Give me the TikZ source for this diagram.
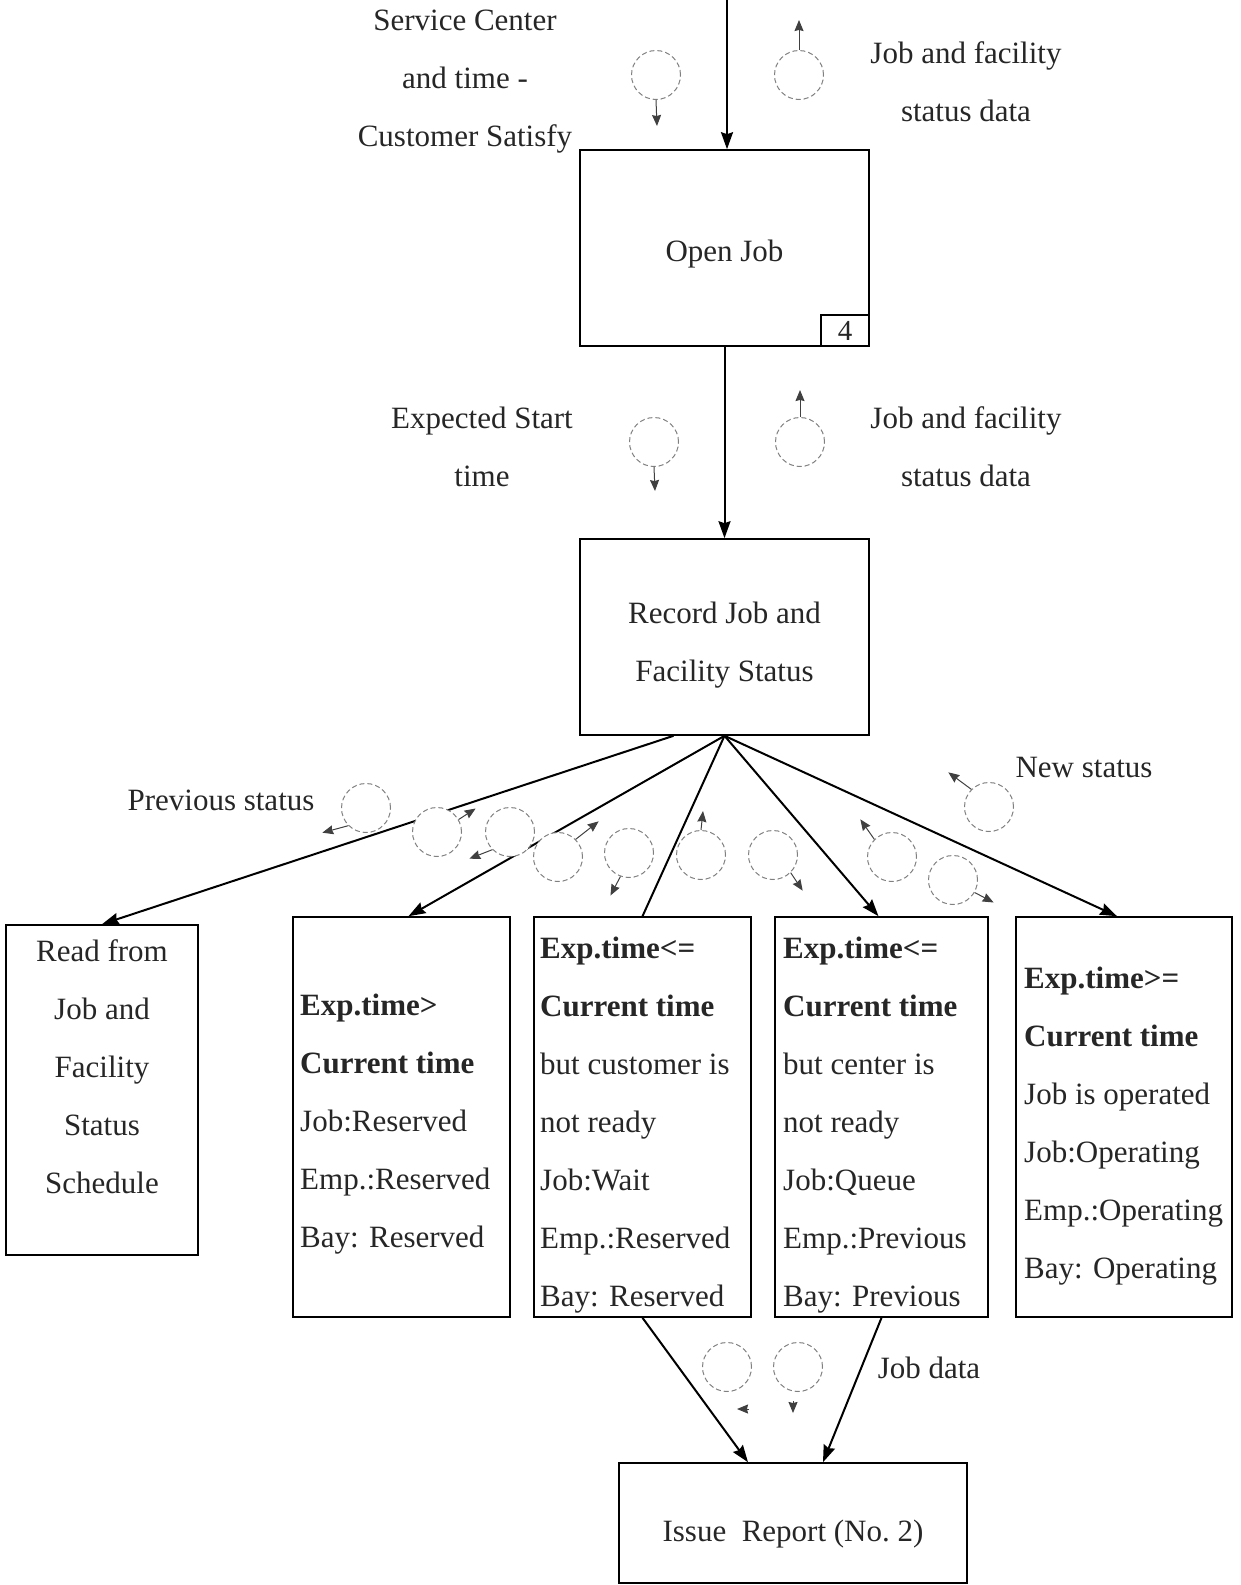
\documentclass[tikz,border=0pt]{standalone}
\usepackage{fontspec}
\setmainfont{Liberation Serif}
\usetikzlibrary{arrows.meta,calc}
\newcommand\lblfont{\fontsize{31}{58}\selectfont}
\begin{document}
\begin{tikzpicture}[x=1pt,y=-1pt,
  every node/.style={font=\lblfont, inner sep=0pt, text=black!85},
  proc/.style={draw, line width=1.6pt, minimum width=289pt, minimum height=196pt},
  stat/.style={draw, line width=1.6pt, minimum height=400pt},
  flow/.style={line width=2pt, -{Stealth[length=17pt,width=12pt,inset=2pt]}},
  plainflow/.style={line width=2pt},
  dcirc/.style={draw=black!50, fill=white, dash pattern=on 5pt off 3pt, line width=1pt, circle, minimum size=49pt},
  tipsm/.style={line width=1pt, draw=black!75, -{Stealth[length=11pt,width=9pt,inset=1pt]}},
]
\useasboundingbox (0,0) rectangle (1240,1585);

% ---- process boxes ----
\node[proc] (open) at (724.5,248) {};
\node (opentxt) at (724.5,254) {Open Job};
\node[draw, line width=1.4pt, minimum width=48pt, minimum height=31pt,
      font=\fontsize{29}{30}\selectfont] (num) at (845,330.5) {4};
\node[proc] (rec) at (724.5,637) {};
\node[align=center] (rectxt) at (724.5,645) {Record Job and\\Facility Status};

% ---- status boxes ----
\node[draw, line width=1.6pt, minimum width=192pt, minimum height=330pt] (read) at (102,1090) {};
\node[align=center] (readtxt) at (102,1067) {Read from\\Job and\\Facility\\Status\\Schedule};

\node[stat, minimum width=217pt] (sa) at (401.5,1117) {};
\node[align=left, anchor=west] (satxt) at (300,1124)
  {{\bfseries Exp.time>}\\{\bfseries Current time}\\Job:Reserved\\Emp.:Reserved\\Bay: Reserved};

\node[stat, minimum width=217pt] (sb) at (642.5,1117) {};
\node[align=left, anchor=west] (sbtxt) at (540,1125)
  {{\bfseries Exp.time<=}\\{\bfseries Current time}\\but customer is\\not ready\\Job:Wait\\Emp.:Reserved\\Bay: Reserved};

\node[stat, minimum width=213pt] (sc) at (881.5,1117) {};
\node[align=left, anchor=west] (sctxt) at (783,1125)
  {{\bfseries Exp.time<=}\\{\bfseries Current time}\\but center is\\not ready\\Job:Queue\\Emp.:Previous\\Bay: Previous};

\node[stat, minimum width=216pt] (sd) at (1124,1117) {};
\node[align=left, anchor=west] (sdtxt) at (1024,1126)
  {{\bfseries Exp.time>=}\\{\bfseries Current time}\\Job is operated\\Job:Operating\\Emp.:Operating\\Bay: Operating};

\node[draw, line width=1.6pt, minimum width=348pt, minimum height=120pt] (iss) at (793,1523) {};
\node (isstxt) at (793,1534) {Issue\ \ Report (No.~2)};

% ---- labels ----
\node[align=center] (svc) at (465,82) {Service Center\\and time -\\Customer Satisfy};
\node[align=center] (jf1) at (966,82) {Job and facility\\status data};
\node[align=center] (exp) at (482,447) {Expected Start\\time};
\node[align=center] (jf2) at (966,447) {Job and facility\\status data};
\node (prev) at (221,800) {Previous status};
\node (new) at (1084,767) {New status};
\node (jd) at (929,1368) {Job data};

% ---- main flows ----
\coordinate (topin) at (727,0);
\draw[flow] (topin) -- (topin |- open.north);
\draw[flow] (open.south) -- (rec.north);
\draw[flow] ($(rec.south)+(-51,0)$) -- (read.north);
\draw[flow] (rec.south) -- ($(sa.north)+(7,0)$);
\draw[plainflow] (sb.north) -- (rec.south);
\draw[flow] (rec.south) -- ($(sc.north)+(-3,0)$);
\draw[flow] (rec.south) -- ($(sd.north)+(-7,0)$);
\draw[flow] (sb.south) -- ($(iss.north)+(-45,0)$);
\draw[flow] (sc.south) -- ($(iss.north)+(30,0)$);

% ---- couples (dashed circles with small arrows) ----
\node[dcirc] (t1) at (656,75) {};
\node[dcirc] (t2) at (799,75) {};
\node[dcirc] (t3) at (654,442) {};
\node[dcirc] (t4) at (800,442) {};
\draw[tipsm] (t1.south) -- ++(1,26);
\draw[tipsm] (t2.north) -- ++(0,-30);
\draw[tipsm] (t3.south) -- ++(1,24);
\draw[tipsm] (t4.north) -- ++(0,-27);

\node[dcirc] (f1) at (366,808) {};
\node[dcirc] (f2) at (437,832) {};
\node[dcirc] (f3) at (510,832) {};
\node[dcirc] (f4) at (558,857) {};
\node[dcirc] (f5) at (629,853) {};
\node[dcirc] (f6) at (701,855) {};
\node[dcirc] (f7) at (773,855) {};
\node[dcirc] (f8) at (892,857) {};
\node[dcirc] (f9) at (953,880) {};
\node[dcirc] (f10) at (989,807) {};
\draw[tipsm] (f1.225) -- ++(-26,7);
\draw[tipsm] (f2.30) -- ++(17,-11);
\draw[tipsm] (f3.225) -- ++(-23,9);
\draw[tipsm] (f4.45) -- ++(23,-18);
\draw[tipsm] (f5.250) -- ++(-10,19);
\draw[tipsm] (f6.north) -- ++(2,-19);
\draw[tipsm] (f7.315) -- ++(12,18);
\draw[tipsm] (f8.135) -- ++(-14,-20);
\draw[tipsm] (f9.330) -- ++(19,10);
\draw[tipsm] (f10.135) -- ++(-23,-17);

\node[dcirc] (g1) at (727,1367) {};
\node[dcirc] (g2) at (798,1367) {};
\draw[tipsm] ($(g1.south)+(22,17)$) -- ++(-12,0);
\draw[tipsm] ($(g2.south)+(-5,9)$) -- ++(0,12);
\end{tikzpicture}
\end{document}
